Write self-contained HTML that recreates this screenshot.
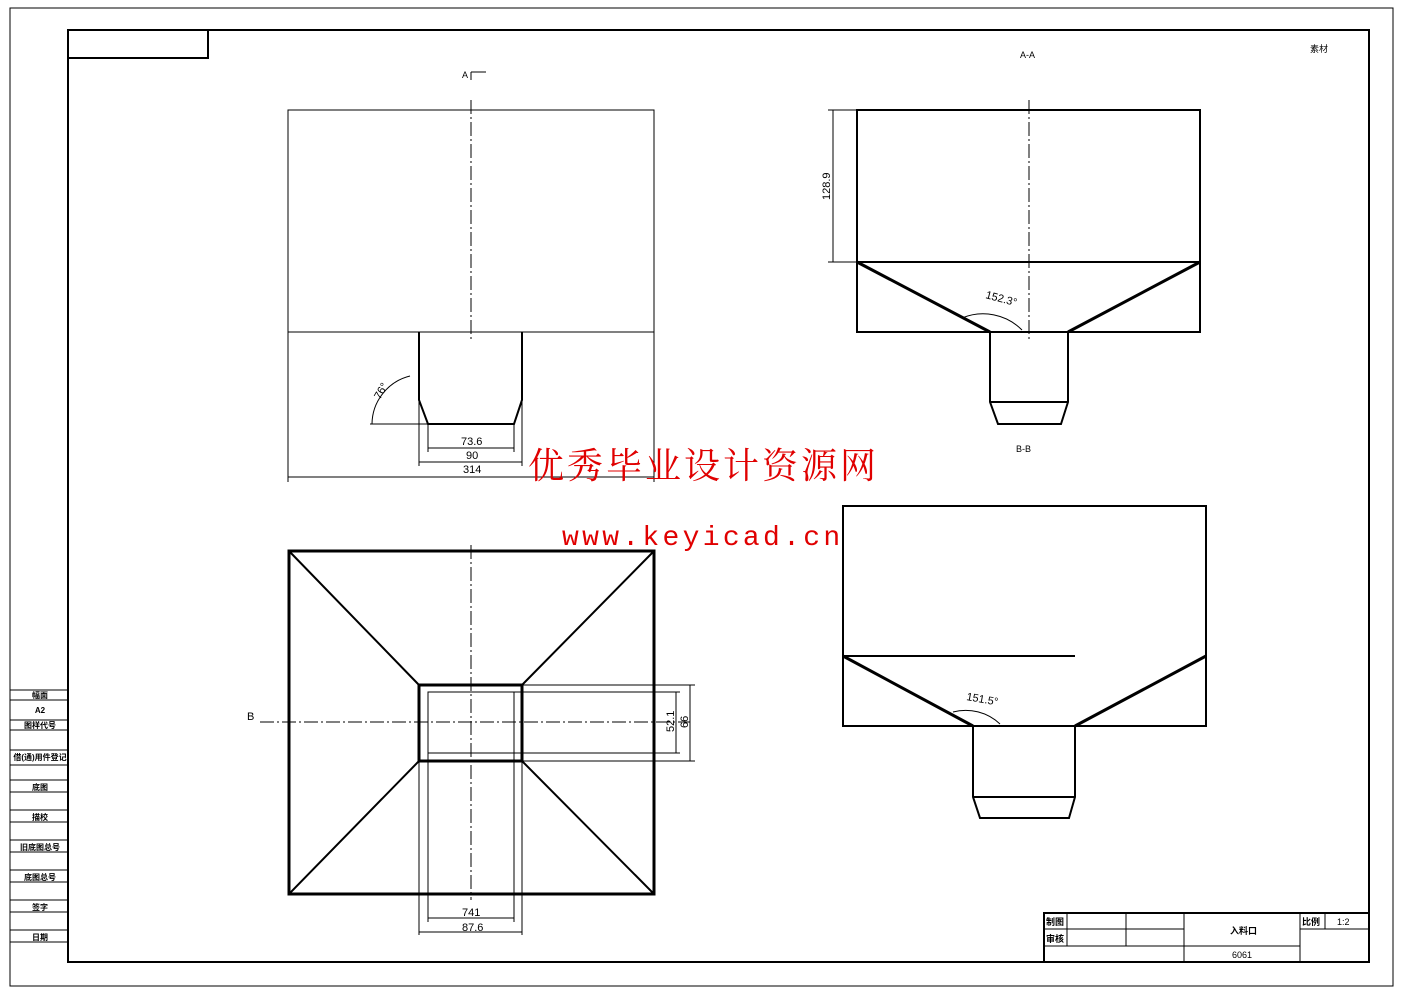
<!DOCTYPE html>
<html><head><meta charset="utf-8"><style>
body{margin:0;background:#fff}
svg{display:block}
text{font-family:"Liberation Sans","Noto Sans CJK SC",sans-serif;fill:#000}
</style></head><body>
<svg width="1403" height="992" viewBox="0 0 1403 992" xmlns="http://www.w3.org/2000/svg">
<rect x="0" y="0" width="1403" height="992" fill="#fff"/>
<rect x="10" y="8" width="1383" height="978" fill="none" stroke="#000" stroke-width="1"/>
<rect x="68" y="30" width="1301" height="932" fill="none" stroke="#000" stroke-width="2"/>
<rect x="68" y="30" width="140" height="28" fill="none" stroke="#000" stroke-width="2"/>
<g stroke="#000" stroke-width="1">
<line x1="10" y1="690" x2="68" y2="690"/><line x1="10" y1="700" x2="68" y2="700"/>
<line x1="10" y1="720" x2="68" y2="720"/><line x1="10" y1="730" x2="68" y2="730"/>
<line x1="10" y1="750" x2="68" y2="750"/><line x1="10" y1="765" x2="68" y2="765"/>
<line x1="10" y1="780" x2="68" y2="780"/><line x1="10" y1="792" x2="68" y2="792"/>
<line x1="10" y1="810" x2="68" y2="810"/><line x1="10" y1="822" x2="68" y2="822"/>
<line x1="10" y1="840" x2="68" y2="840"/><line x1="10" y1="852" x2="68" y2="852"/>
<line x1="10" y1="870" x2="68" y2="870"/><line x1="10" y1="882" x2="68" y2="882"/>
<line x1="10" y1="900" x2="68" y2="900"/><line x1="10" y1="912" x2="68" y2="912"/>
<line x1="10" y1="930" x2="68" y2="930"/><line x1="10" y1="942" x2="68" y2="942"/>
</g>
<g font-size="8" text-anchor="middle" font-weight="bold">
<text x="40" y="698">幅面</text><text x="40" y="713">A2</text><text x="40" y="728">图样代号</text>
<text x="40" y="760">借(通)用件登记</text><text x="40" y="790">底图</text><text x="40" y="820">描校</text>
<text x="40" y="850">旧底图总号</text><text x="40" y="880">底图总号</text><text x="40" y="910">签字</text><text x="40" y="940">日期</text>
</g>
<g stroke="#000" fill="none">
<rect x="1044" y="913" width="325" height="49" stroke-width="2"/>
<line x1="1044" y1="929" x2="1184" y2="929"/><line x1="1044" y1="946" x2="1300" y2="946"/>
<line x1="1067" y1="913" x2="1067" y2="946"/><line x1="1126" y1="913" x2="1126" y2="946"/>
<line x1="1184" y1="913" x2="1184" y2="962"/><line x1="1300" y1="913" x2="1300" y2="962"/>
<line x1="1300" y1="929" x2="1369" y2="929"/><line x1="1325" y1="913" x2="1325" y2="929"/>
</g>
<g font-size="9"><text x="1046" y="925" font-weight="bold">制图</text><text x="1046" y="942" font-weight="bold">审核</text>
<text x="1230" y="934" font-weight="bold">入料口</text><text x="1232" y="958">6061</text><text x="1302" y="925" font-weight="bold">比例</text><text x="1337" y="925">1:2</text>
<text x="1310" y="52">素材</text><text x="1020" y="58">A-A</text><text x="1016" y="452">B-B</text><text x="462" y="78">A</text></g>
<g stroke="#000" fill="none" stroke-width="1">
<rect x="288" y="110" width="366" height="222"/>
<line x1="471" y1="100" x2="471" y2="340" stroke-dasharray="14,3,2,3"/>
<path d="M419 332 V400 L428 424 H514 L522 400 V332" stroke-width="2"/>
<line x1="471" y1="72" x2="486" y2="72"/><line x1="471" y1="72" x2="471" y2="80"/>
<line x1="288" y1="332" x2="288" y2="482"/><line x1="654" y1="332" x2="654" y2="482"/>
<line x1="288" y1="477" x2="654" y2="477"/>
<line x1="419" y1="400" x2="419" y2="466"/><line x1="522" y1="400" x2="522" y2="466"/>
<line x1="419" y1="462" x2="522" y2="462"/>
<line x1="428" y1="424" x2="428" y2="452"/><line x1="514" y1="424" x2="514" y2="452"/>
<line x1="428" y1="448" x2="514" y2="448"/>
<line x1="370" y1="424" x2="428" y2="424"/>
<path d="M372 424 A50 50 0 0 1 410 376"/>
<rect x="857" y="110" width="343" height="222" stroke-width="2"/>
<line x1="857" y1="262" x2="1200" y2="262" stroke-width="2"/>
<path d="M857 262 L990 332 M1200 262 L1068 332" stroke-width="3"/>
<line x1="1029" y1="100" x2="1029" y2="340" stroke-dasharray="14,3,2,3"/>
<path d="M990 332 V402 L998 424 H1061 L1068 402 V332 Z" stroke-width="2"/>
<line x1="990" y1="402" x2="1068" y2="402" stroke-width="2"/>
<line x1="828" y1="110" x2="857" y2="110"/><line x1="828" y1="262" x2="857" y2="262"/>
<line x1="833" y1="110" x2="833" y2="262"/>
<path d="M962 318 A55 55 0 0 1 1022 330"/>
<rect x="843" y="506" width="363" height="220" stroke-width="2"/>
<line x1="843" y1="656" x2="1075" y2="656" stroke-width="2"/>
<path d="M843 656 L973 726 M1206 656 L1075 726" stroke-width="3"/>
<path d="M973 726 V797 L980 818 H1069 L1075 797 V726" stroke-width="2"/>
<line x1="973" y1="797" x2="1075" y2="797" stroke-width="2"/>
<path d="M953 712 A50 50 0 0 1 1000 724"/>
<rect x="289" y="551" width="365" height="343" stroke-width="3"/>
<rect x="419" y="685" width="103" height="76" stroke-width="3"/>
<rect x="428" y="692" width="86" height="61"/>
<path d="M289 551 L419 685 M654 551 L522 685 M289 894 L419 761 M654 894 L522 761" stroke-width="2"/>
<line x1="471" y1="545" x2="471" y2="900" stroke-dasharray="14,3,2,3"/>
<line x1="260" y1="722" x2="690" y2="722" stroke-dasharray="14,3,2,3"/>
<line x1="419" y1="761" x2="419" y2="935"/><line x1="522" y1="761" x2="522" y2="935"/>
<line x1="428" y1="753" x2="428" y2="922"/><line x1="514" y1="753" x2="514" y2="922"/>
<line x1="428" y1="918" x2="514" y2="918"/><line x1="419" y1="932" x2="522" y2="932"/>
<line x1="522" y1="685" x2="695" y2="685"/><line x1="522" y1="761" x2="695" y2="761"/>
<line x1="514" y1="692" x2="680" y2="692"/><line x1="514" y1="753" x2="680" y2="753"/>
<line x1="690" y1="685" x2="690" y2="761"/><line x1="676" y1="692" x2="676" y2="753"/>
</g>
<g font-size="11">
<text x="461" y="445">73.6</text><text x="466" y="459">90</text><text x="463" y="473">314</text>
<text x="462" y="916">741</text><text x="462" y="931">87.6</text>
<text x="380" y="400" transform="rotate(-60 380 400)">76°</text>
<text x="985" y="298" transform="rotate(15 985 298)">152.3°</text>
<text x="966" y="700" transform="rotate(10 966 700)">151.5°</text>
<text x="830" y="200" transform="rotate(-90 830 200)">128.9</text>
<text x="674" y="732" transform="rotate(-90 674 732)">52.1</text>
<text x="688" y="728" transform="rotate(-90 688 728)">66</text>
<text x="247" y="720">B</text>
</g>
<text x="528" y="478" font-size="36" letter-spacing="3" style="fill:#e00000;font-family:'Noto Serif CJK SC',serif">优秀毕业设计资源网</text>
<text x="562" y="545" font-size="28" letter-spacing="3.3" style="fill:#e00000;font-family:'Liberation Mono',monospace">www.keyicad.cn</text>
</svg>
</body></html>
